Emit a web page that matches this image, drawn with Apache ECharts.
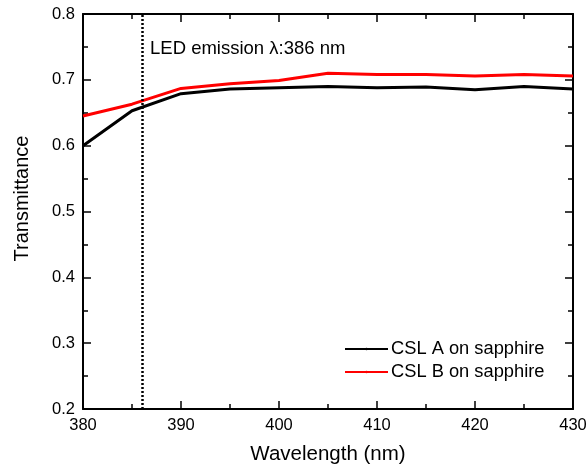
<!DOCTYPE html>
<html>
<head>
<meta charset="utf-8">
<script src="https://cdn.jsdelivr.net/npm/echarts@6/dist/echarts.min.js"></script>
<style>
  html, body { margin: 0; padding: 0; background: #fff; }
  #main { width: 587px; height: 470px; }
</style>
</head>
<body>
<div id="main"></div>
<script>
  // data
  const wavelength = [380, 385, 390, 395, 400, 405, 410, 415, 420, 425, 430];
  const cslA = [0.600, 0.653, 0.679, 0.686, 0.688, 0.690, 0.688, 0.689, 0.685, 0.690, 0.686];
  const cslB = [0.645, 0.663, 0.687, 0.694, 0.699, 0.710, 0.708, 0.708, 0.706, 0.708, 0.706];
  const ledLine = 386;

  const font = 'Liberation Sans, Arial, sans-serif';
  const pair = (xs, ys) => xs.map((x, i) => [x, ys[i]]);

  const axisLine = { show: true, lineStyle: { color: '#000', width: 2 } };
  const axisTick = { show: true, inside: true, length: 8, lineStyle: { color: '#000', width: 1.5 } };
  const minorTick = { show: true, splitNumber: 2, length: 5, lineStyle: { color: '#000', width: 1.5 } };

  const mirror = {
    axisLine: axisLine,
    axisTick: axisTick,
    minorTick: minorTick,
    axisLabel: { show: false },
    splitLine: { show: false }
  };

  var myChart = echarts.init(document.getElementById('main'));
  myChart.setOption({
    animation: false,
    grid: { left: 83, right: 14, top: 14, bottom: 61, containLabel: false, outerBoundsMode: 'none' },
    legend: {
      orient: 'vertical',
      left: 344,
      top: 339,
      padding: 0,
      itemWidth: 43,
      itemHeight: 3,
      itemGap: 3,
      textStyle: { fontFamily: font, fontSize: 18.3, lineHeight: 20, color: '#000', padding: [0, 0, 0, -2] },
      data: ['CSL A on sapphire', 'CSL B on sapphire']
    },
    xAxis: [
      {
        type: 'value',
        min: 380,
        max: 430,
        interval: 10,
        name: 'Wavelength (nm)',
        nameLocation: 'middle',
        nameGap: 35,
        nameTextStyle: { fontFamily: font, fontSize: 20.5, color: '#000' },
        axisLine: axisLine,
        axisTick: axisTick,
        minorTick: minorTick,
        axisLabel: { fontFamily: font, fontSize: 16.5, color: '#000', margin: 8 },
        splitLine: { show: false }
      },
      Object.assign({ type: 'value', position: 'top', min: 380, max: 430, interval: 10 }, mirror)
    ],
    yAxis: [
      {
        type: 'value',
        min: 0.2,
        max: 0.8,
        interval: 0.1,
        name: 'Transmittance',
        nameLocation: 'middle',
        nameGap: 51,
        nameTextStyle: { fontFamily: font, fontSize: 20, color: '#000', padding: [0, 0, 0, 26] },
        axisLine: axisLine,
        axisTick: axisTick,
        minorTick: minorTick,
        axisLabel: { fontFamily: font, fontSize: 16.5, color: '#000', margin: 8, formatter: v => v.toFixed(1) },
        splitLine: { show: false }
      },
      Object.assign({ type: 'value', position: 'right', min: 0.2, max: 0.8, interval: 0.1 }, mirror)
    ],
    graphic: [
      {
        type: 'text',
        left: 150,
        top: 39,
        style: { text: 'LED emission λ:386 nm', fontFamily: font, fontSize: 18.5, fill: '#000' }
      }
    ],
    series: [
      {
        name: 'CSL A on sapphire',
        type: 'line',
        data: pair(wavelength, cslA),
        symbol: 'none',
        lineStyle: { color: '#000', width: 3 },
        itemStyle: { color: '#000' },
        markLine: {
          silent: true,
          symbol: 'none',
          label: { show: false },
          lineStyle: { color: '#000', type: [2, 2], width: 2.5 },
          data: [{ xAxis: ledLine }]
        }
      },
      {
        name: 'CSL B on sapphire',
        type: 'line',
        data: pair(wavelength, cslB),
        symbol: 'none',
        lineStyle: { color: '#f00', width: 3 },
        itemStyle: { color: '#f00' }
      }
    ]
  });
</script>
</body>
</html>
